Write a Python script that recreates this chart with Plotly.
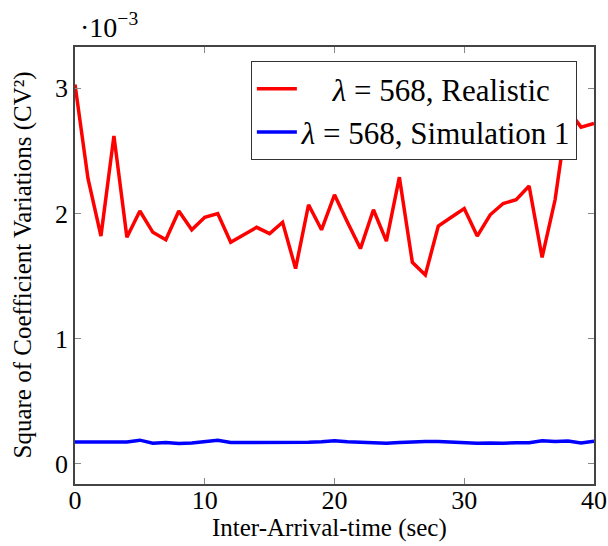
import plotly.graph_objects as go

x_vals = list(range(0, 41))
realistic = [3.03, 2.28, 1.82, 2.62, 1.81, 2.02, 1.85, 1.79, 2.02, 1.87,
             1.97, 2.00, 1.77, 1.83, 1.89, 1.84, 1.93, 1.56, 2.07, 1.87,
             2.15, 1.93, 1.72, 2.03, 1.78, 2.29, 1.61, 1.51, 1.90, 1.97,
             2.04, 1.82, 1.99, 2.08, 2.11, 2.22, 1.65, 2.11, 2.83, 2.69,
             2.72]
simulation = [0.175, 0.175, 0.180, 0.175, 0.175, 0.190, 0.165, 0.172, 0.163, 0.168,
              0.178, 0.190, 0.172, 0.172, 0.170, 0.172, 0.173, 0.173, 0.173, 0.177,
              0.185, 0.178, 0.175, 0.173, 0.165, 0.172, 0.178, 0.180, 0.180, 0.175,
              0.168, 0.165, 0.168, 0.165, 0.170, 0.170, 0.185, 0.180, 0.183, 0.168,
              0.182]
x_ticks = [0, 10, 20, 30, 40]
y_ticks = [0, 1, 2, 3]
x_title = "Inter-Arrival-time (sec)"
y_title = "Square of Coefficient Variations (CV²)"
names = ["\u00a0\u00a0\u00a0\u00a0<i>λ</i> = 568, Realistic",
         "<i>λ</i> = 568, Simulation 1"]

FONT = "Liberation Serif, Times New Roman, Times, serif"

fig = go.Figure()
fig.add_trace(go.Scatter(x=x_vals, y=realistic, mode="lines",
                         line=dict(color="#ff0000", width=3.5),
                         name=names[0]))
fig.add_trace(go.Scatter(x=x_vals, y=simulation, mode="lines",
                         line=dict(color="#0000ff", width=3.5),
                         name=names[1]))

fig.update_layout(
    width=608, height=546,
    margin=dict(l=75, r=14, t=47, b=62, autoexpand=False),
    plot_bgcolor="white", paper_bgcolor="white",
    font=dict(family=FONT, size=25, color="black"),
    showlegend=True,
    legend=dict(x=0.967, y=0.968, xanchor="right", yanchor="top",
                bgcolor="white", bordercolor="#333333", borderwidth=1,
                font=dict(family=FONT, size=31, color="black"), tracegroupgap=0,
                itemwidth=40),
    xaxis=dict(range=[0, 40], tickvals=x_ticks, ticks="inside", ticklen=6,
               tickcolor="#888888", showline=True, linecolor="#444444",
               linewidth=1.5, mirror="ticks", showgrid=False, zeroline=False,
               automargin=False, ticklabelstandoff=-8,
               tickfont=dict(family=FONT, size=26, color="black")),
    yaxis=dict(range=[-0.16, 3.33], tickvals=y_ticks, ticks="inside", ticklen=6,
               tickcolor="#888888", showline=True, linecolor="#444444",
               linewidth=1.5, mirror="ticks", showgrid=False, zeroline=False,
               automargin=False,
               tickfont=dict(family=FONT, size=26, color="black")),
)

fig.add_annotation(xref="paper", yref="paper", x=0.5, y=0, xanchor="center",
                   yanchor="middle", yshift=-44, xshift=-5, showarrow=False,
                   text=x_title, font=dict(family=FONT, size=25, color="black"))
fig.add_annotation(xref="paper", yref="paper", x=0, y=0.5, xanchor="center",
                   yanchor="middle", xshift=-53, showarrow=False, textangle=-90,
                   text=y_title, font=dict(family=FONT, size=25, color="black"))
fig.add_annotation(xref="paper", yref="paper", x=0.0, y=1.0, xanchor="left",
                   yanchor="bottom", xshift=3, yshift=2, showarrow=False,
                   text="·10<sup>−3</sup>", font=dict(family=FONT, size=28, color="black"))

fig.write_html("out.html")
